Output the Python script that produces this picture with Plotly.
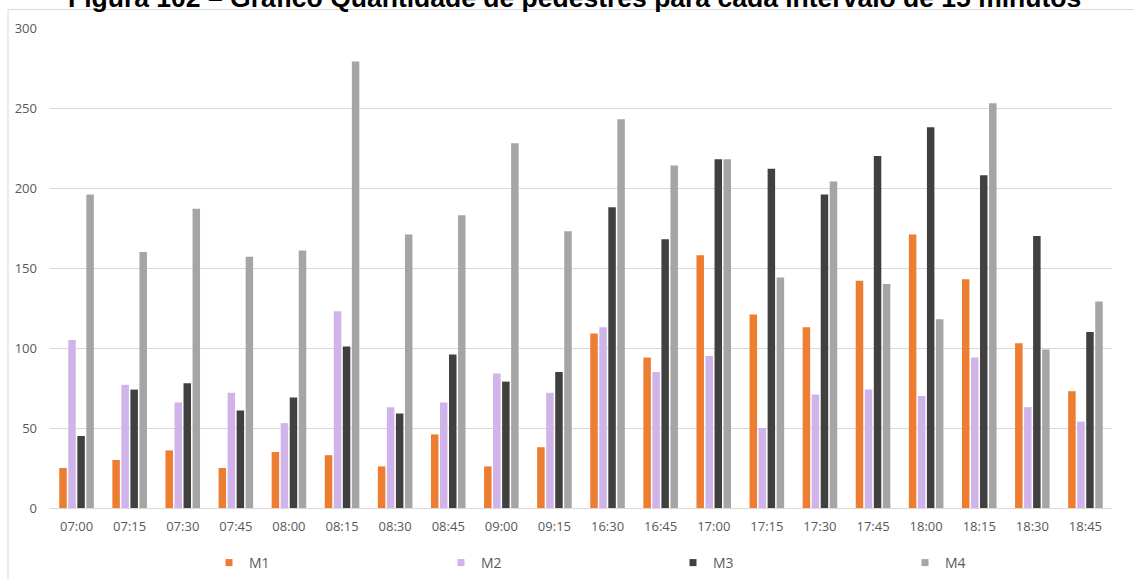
import plotly.graph_objects as go

categories = ["07:00", "07:15", "07:30", "07:45", "08:00", "08:15", "08:30", "08:45", "09:00", "09:15",
              "16:30", "16:45", "17:00", "17:15", "17:30", "17:45", "18:00", "18:15", "18:30", "18:45"]
m1 = [25, 30, 36, 25, 35, 33, 26, 46, 26, 38, 109, 94, 158, 121, 113, 142, 171, 143, 103, 73]
m2 = [105, 77, 66, 72, 53, 123, 63, 66, 84, 72, 113, 85, 95, 50, 71, 74, 70, 94, 63, 54]
m3 = [45, 74, 78, 61, 69, 101, 59, 96, 79, 85, 188, 168, 218, 212, 196, 220, 238, 208, 170, 110]
m4 = [196, 160, 187, 157, 161, 279, 171, 183, 228, 173, 243, 214, 218, 144, 204, 140, 118, 253, 99, 129]
series_names = ["M1", "M2", "M3", "M4"]
y_ticks = [0, 50, 100, 150, 200, 250, 300]
title_text = "Figura 102 – Gráfico Quantidade de pedestres para cada intervalo de 15 minutos"

colors = ["#ED7D31", "#D0B3E8", "#404040", "#A5A5A5"]

W, H = 1134, 579
ML, MR, MT, MB = 50, 22, 28, 71
PW, PH = W - ML - MR, H - MT - MB


def px_x(p):
    return (p - ML) / PW


def px_y(p):
    return (H - MB - p) / PH


fig = go.Figure()
for name, vals, col in zip(series_names, [m1, m2, m3, m4], colors):
    fig.add_trace(go.Bar(x=categories, y=vals, name=name, marker=dict(color=col, line=dict(width=0)),
                         showlegend=False))
    fig.add_trace(go.Scatter(x=[None], y=[None], mode="markers", name=name,
                             marker=dict(symbol="square", size=7, color=col), showlegend=True))

fig.update_layout(
    width=W, height=H,
    paper_bgcolor="white", plot_bgcolor="white",
    margin=dict(l=ML, r=MR, t=MT, b=MB, autoexpand=False),
    barmode="group", bargap=0.32, bargroupgap=0.17,
    font=dict(family="Open Sans", color="#595959", size=13),
    legend=dict(orientation="h", x=px_x(209), xanchor="left", y=px_y(563), yanchor="middle",
                entrywidth=187, entrywidthmode="pixels", itemwidth=30,
                font=dict(family="Open Sans", size=14, color="#595959"),
                bgcolor="rgba(0,0,0,0)"),
    annotations=[
        dict(text="<b>" + title_text + "</b>", xref="paper", yref="paper",
             x=px_x(574), y=px_y(15), xanchor="center", yanchor="bottom", showarrow=False,
             font=dict(family="Liberation Sans, Arial", size=26.5, color="#000000")),
    ],
    shapes=[
        dict(type="line", xref="paper", yref="paper", x0=px_x(8), x1=px_x(8),
             y0=px_y(600), y1=px_y(9.5), line=dict(color="#D9D9D9", width=1)),
        dict(type="line", xref="paper", yref="paper", x0=px_x(8), x1=px_x(1140),
             y0=px_y(9.5), y1=px_y(9.5), line=dict(color="#D9D9D9", width=1)),
    ],
)
fig.update_xaxes(showgrid=False, showline=True, linecolor="#D9D9D9", linewidth=1,
                 ticks="", tickfont=dict(size=13, color="#595959"), ticklabelstandoff=6)
fig.update_yaxes(range=[0, 300], tickvals=y_ticks, showgrid=True, gridcolor="#D9D9D9", gridwidth=1,
                 zeroline=False, showline=False, ticks="", ticklabelstandoff=12,
                 tickfont=dict(size=13, color="#595959"))

fig.write_html("out.html", config={"displayModeBar": False},
               post_script="document.body.style.margin='0';")
